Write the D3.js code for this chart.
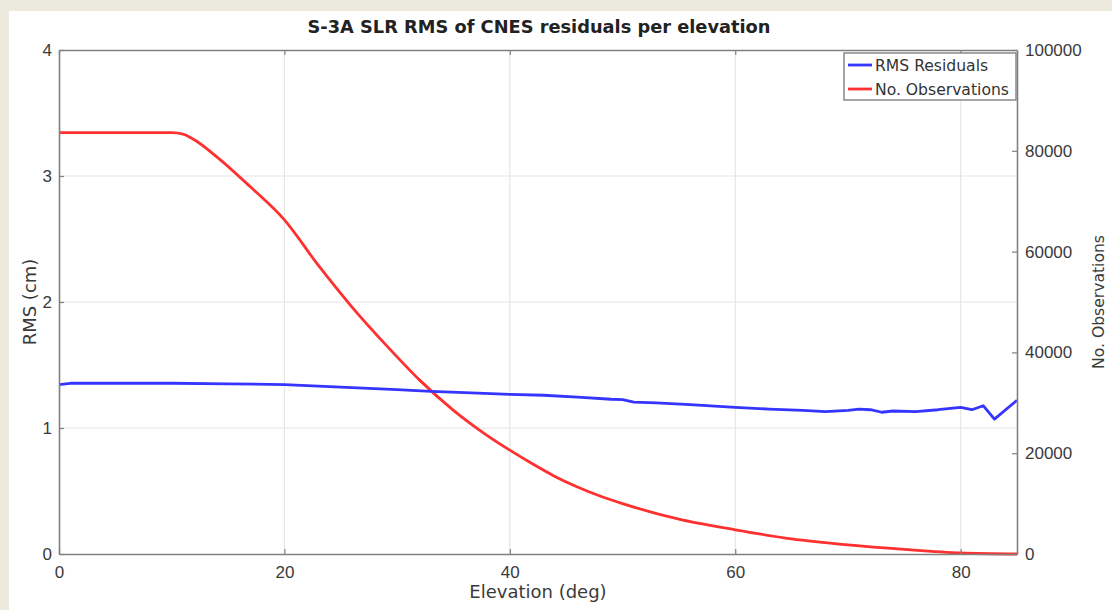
<!DOCTYPE html>
<html><head><meta charset="utf-8">
<script src="https://cdn.jsdelivr.net/npm/d3@7"></script>
<style>
body{margin:0;background:#ecE9de;}
svg{display:block;font-family:"DejaVu Sans",sans-serif;}
</style></head>
<body>
<svg id="chart" width="1112" height="610"></svg>
<script>
// ---- data ----
const title = "S-3A SLR RMS of CNES residuals per elevation";
const xLabel = "Elevation (deg)";
const yLeftLabel = "RMS (cm)";
const yRightLabel = "No. Observations";
const seriesNames = ["RMS Residuals", "No. Observations"];
const xTicks = [0, 20, 40, 60, 80];
const yLeftTicks = [0, 1, 2, 3, 4];
const yRightTicks = [0, 20000, 40000, 60000, 80000, 100000];

const rmsElev = [0, 1, 5, 10, 15, 20, 25, 30, 33, 36, 40, 43, 46, 49, 50, 51, 53, 56, 60, 63, 66, 68, 70, 71, 72, 73, 74, 76, 78, 80, 81, 82, 83, 85];
const rmsVals = [1.345, 1.355, 1.355, 1.355, 1.35, 1.345, 1.325, 1.305, 1.29, 1.28, 1.267, 1.26, 1.245, 1.228, 1.225, 1.205, 1.20, 1.185, 1.164, 1.15, 1.14, 1.13, 1.14, 1.15, 1.145, 1.125, 1.135, 1.13, 1.145, 1.164, 1.145, 1.177, 1.07, 1.22];

const obsElev = [0, 5, 10, 11, 12, 14, 17, 20, 23, 26, 29, 32, 35, 38, 40, 42, 44, 46, 48, 50, 55, 60, 65, 70, 75, 80, 85];
const obsVals = [83600, 83600, 83600, 83300, 82200, 78800, 72800, 66300, 57300, 49000, 41500, 34500, 28500, 23500, 20600, 17900, 15400, 13300, 11500, 10000, 6900, 4800, 3000, 1800, 900, 200, 0];

// ---- layout ----
const svg = d3.select("#chart");
const L = 59, R = 1017, T = 50, B = 554;
svg.append("rect").attr("x", 9).attr("y", 11).attr("width", 1103).attr("height", 599).attr("fill", "#ffffff");

const x = d3.scaleLinear().domain([0, 85]).range([L, R]);
const yL = d3.scaleLinear().domain([0, 4]).range([B, T]);
const yR = d3.scaleLinear().domain([0, 100000]).range([B, T]);

const axisColor = "#808080", textColor = "#3a3a3a", gridColor = "#e6e6e6";

// grid
const g = svg.append("g");
g.selectAll(".gx").data(xTicks.filter(d => d > 0)).join("line")
  .attr("x1", d => x(d)).attr("x2", d => x(d)).attr("y1", T).attr("y2", B)
  .attr("stroke", gridColor).attr("stroke-width", 1.2);
g.selectAll(".gy").data(yLeftTicks.filter(d => d > 0 && d < 4)).join("line")
  .attr("x1", L).attr("x2", R).attr("y1", d => yL(d)).attr("y2", d => yL(d))
  .attr("stroke", gridColor).attr("stroke-width", 1.2);

// lines
const lineR = d3.line().x((d, i) => x(obsElev[i])).y(d => yR(d)).curve(d3.curveMonotoneX);
const lineB = d3.line().x((d, i) => x(rmsElev[i])).y(d => yL(d));
svg.append("path").attr("d", lineR(obsVals)).attr("fill", "none")
  .attr("stroke", "#ff3030").attr("stroke-width", 2.8).attr("stroke-linejoin", "round");
svg.append("path").attr("d", lineB(rmsVals)).attr("fill", "none")
  .attr("stroke", "#3535ff").attr("stroke-width", 2.8).attr("stroke-linejoin", "round");

// axes
function styleAxis(sel) {
  sel.select(".domain").attr("stroke", axisColor).attr("stroke-width", 1.6);
  sel.selectAll(".tick line").attr("stroke", axisColor).attr("stroke-width", 1.2);
  sel.selectAll(".tick text").attr("fill", textColor).attr("font-size", 17);
}
const fmt = d3.format("d");
const xAxis = svg.append("g").attr("transform", `translate(0,${B})`)
  .call(d3.axisBottom(x).tickValues(xTicks).tickFormat(fmt).tickSizeInner(-5).tickSizeOuter(0).tickPadding(12));
styleAxis(xAxis);
const xTop = svg.append("g").attr("transform", `translate(0,${T})`)
  .call(d3.axisTop(x).tickValues(xTicks).tickSizeInner(-5).tickSizeOuter(0).tickFormat(""));
styleAxis(xTop);
const yAxisL = svg.append("g").attr("transform", `translate(${L},0)`)
  .call(d3.axisLeft(yL).tickValues(yLeftTicks).tickFormat(fmt).tickSizeInner(-5).tickSizeOuter(0).tickPadding(7));
styleAxis(yAxisL);
const yAxisR = svg.append("g").attr("transform", `translate(${R},0)`)
  .call(d3.axisRight(yR).tickValues(yRightTicks).tickFormat(fmt).tickSizeInner(-5).tickSizeOuter(0).tickPadding(8));
styleAxis(yAxisR);

// title & labels
svg.append("text").attr("x", 539).attr("y", 33).attr("text-anchor", "middle")
  .attr("font-weight", "bold").attr("font-size", 17.8).attr("fill", "#222").text(title);
svg.append("text").attr("x", 538).attr("y", 598).attr("text-anchor", "middle")
  .attr("font-size", 18).attr("fill", textColor).text(xLabel);
svg.append("text").attr("transform", `translate(36,${(T + B) / 2}) rotate(-90)`).attr("text-anchor", "middle")
  .attr("font-size", 18).attr("fill", textColor).text(yLeftLabel);
svg.append("text").attr("transform", `translate(1104,${(T + B) / 2}) rotate(-90)`).attr("text-anchor", "middle")
  .attr("font-size", 15.6).attr("fill", textColor).text(yRightLabel);

// legend
const lg = svg.append("g");
lg.append("rect").attr("x", 844).attr("y", 53).attr("width", 172).attr("height", 47)
  .attr("fill", "#fff").attr("stroke", axisColor).attr("stroke-width", 1.4);
const legColors = ["#3535ff", "#ff3030"];
seriesNames.forEach((n, i) => {
  const yy = 65 + i * 24;
  lg.append("line").attr("x1", 848).attr("x2", 872).attr("y1", yy).attr("y2", yy)
    .attr("stroke", legColors[i]).attr("stroke-width", 2.8);
  lg.append("text").attr("x", 875).attr("y", yy + 5.5).attr("font-size", 15.6).attr("fill", "#333").text(n);
});
</script>
</body></html>
